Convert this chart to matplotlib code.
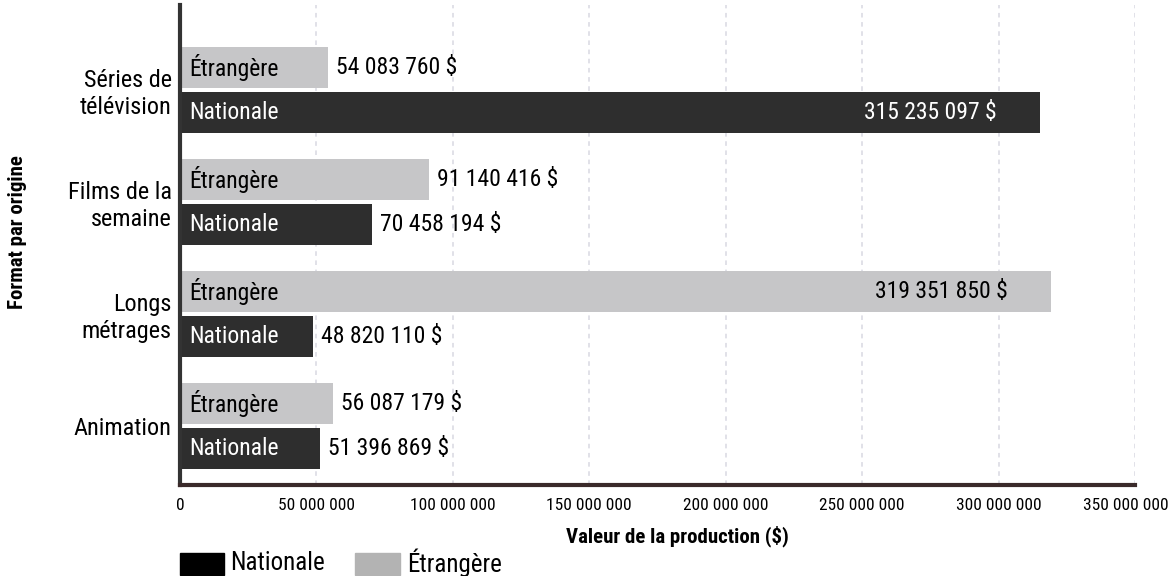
import matplotlib
matplotlib.use("Agg")
import matplotlib.pyplot as plt
from matplotlib.patches import Rectangle
from matplotlib import font_manager
from matplotlib.transforms import ScaledTranslation

categories = ["Séries de\ntélévision", "Films de la\nsemaine", "Longs\nmétrages", "Animation"]
etrangere = [54083760, 91140416, 319351850, 56087179]
nationale = [315235097, 70458194, 48820110, 51396869]
xticks = [0, 50e6, 100e6, 150e6, 200e6, 250e6, 300e6, 350e6]
xtick_labels = ["0", "50 000 000", "100 000 000", "150 000 000", "200 000 000",
                "250 000 000", "300 000 000", "350 000 000"]

names = {f.name for f in font_manager.fontManager.ttflist}
fam = [n for n in ["Liberation Sans Narrow", "Roboto Condensed", "Liberation Sans", "DejaVu Sans"] if n in names]
plt.rcParams['font.family'] = fam

def fmt(v):
    return f"{v:,}".replace(",", " ") + " $"

W, H = 1175, 576
fig = plt.figure(figsize=(W/100, H/100), dpi=100)
ax = fig.add_axes([180/W, 1-485/H, (1135-180)/W, (485-5)/H])

dark = "#2e2e2e"
light = "#c6c6c8"
bh = 0.366
off = 0.2
fs = 17
for i in range(len(categories)):
    ax.barh(i - off, etrangere[i], height=bh, color=light, edgecolor="none", zorder=2)
    ax.barh(i + off, nationale[i], height=bh, color=dark, edgecolor="none", zorder=2)
    ax.text(3.5e6, i - off, "Étrangère", va="center", ha="left", fontsize=fs, color="black", zorder=3)
    ax.text(3.5e6, i + off, "Nationale", va="center", ha="left", fontsize=fs, color="white", zorder=3)
    for v, y, inside_col in [(etrangere[i], i - off, "black"), (nationale[i], i + off, "white")]:
        if v > 250e6:
            ax.text(v - 16e6, y, fmt(v), va="center", ha="right", fontsize=fs, color=inside_col, zorder=3)
        else:
            ax.text(v + 3e6, y, fmt(v), va="center", ha="left", fontsize=fs, color="black", zorder=3)

ax.set_xlim(0, 350e6)
ax.set_ylim((485-90)/112, (5-90)/112)
ax.set_xticks(xticks)
ax.set_xticklabels(xtick_labels, fontsize=12.5)
ax.set_yticks(range(len(categories)))
ax.set_yticklabels(categories, fontsize=17.5, linespacing=1.2)
ax.tick_params(axis='both', length=0)
ax.tick_params(axis='x', pad=9)
ax.tick_params(axis='y', pad=6)
last = ax.get_xticklabels()[-1]
last.set_transform(last.get_transform() + ScaledTranslation(-9/100, 0, fig.dpi_scale_trans))
ax.grid(axis='x', color="#d8d8e2", linestyle=(0, (3, 3)), linewidth=1.1, zorder=0)
for s in ["top", "right"]:
    ax.spines[s].set_visible(False)
ax.spines["left"].set_linewidth(3)
ax.spines["left"].set_color("#333333")
ax.spines["bottom"].set_linewidth(3)
ax.spines["bottom"].set_color("#3a2a2a")

fig.text(677/W, 1-536/H, "Valeur de la production ($)", ha="center", va="center",
         fontsize=15, fontweight="bold")
fig.text(18/W, 1-232/H, "Format par origine", ha="center", va="center",
         fontsize=15, fontweight="bold", rotation=90)

fig.add_artist(Rectangle((180/W, 1-575/H), 44/W, 22/H, transform=fig.transFigure, color="black"))
fig.text(230/W, 1-563/H, "Nationale", ha="left", va="center", fontsize=18)
fig.add_artist(Rectangle((355/W, 1-575/H), 45/W, 22/H, transform=fig.transFigure, color="#b3b3b3"))
fig.text(407/W, 1-563/H, "Étrangère", ha="left", va="center", fontsize=18)

fig.savefig("out.png", dpi=100)
